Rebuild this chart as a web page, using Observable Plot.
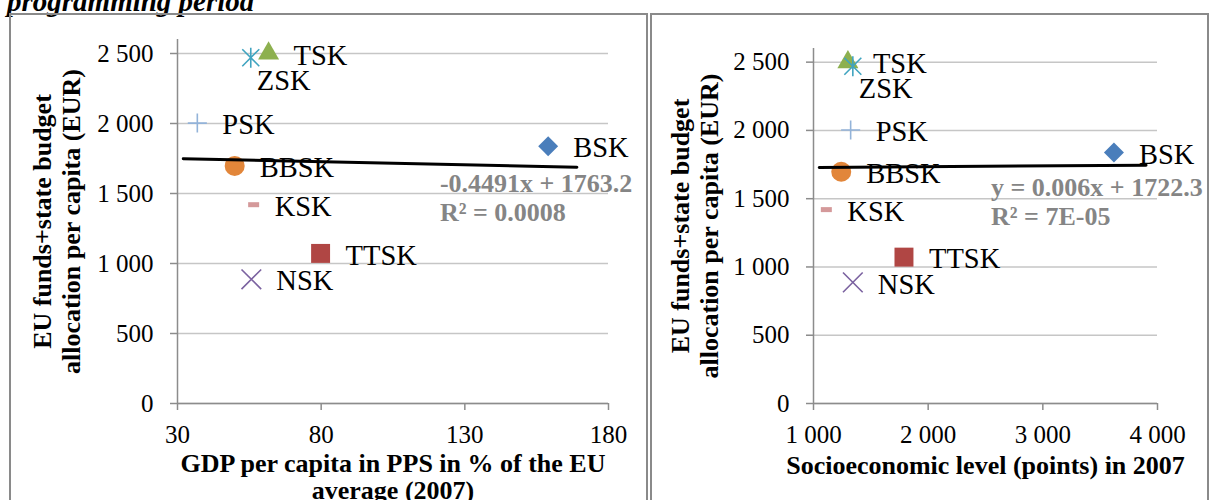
<!DOCTYPE html>
<html><head><meta charset="utf-8">
<script src="https://cdn.jsdelivr.net/npm/d3@7"></script>
<script src="https://cdn.jsdelivr.net/npm/@observablehq/plot@0.6"></script>
<style>
body{margin:0;background:#fff;width:1209px;height:500px;overflow:hidden;position:relative;font-family:"Liberation Serif",serif;}
#title{position:absolute;left:7px;top:-13px;font:italic bold 29px/29px "Liberation Serif",serif;white-space:nowrap;}
.panel{position:absolute;border:2px solid #8a8a8a;box-sizing:border-box;z-index:2;}
#p1{left:9px;top:13px;width:639px;height:520px;}
#p2{left:650px;top:13px;width:559px;height:520px;}
.chart{position:absolute;top:0;}
#c1{left:0;width:648px;}
#c2{left:650px;width:559px;}
.chart svg{max-width:none;background:transparent;}
</style></head><body>
<div id="title">programming period</div>
<div class="chart" id="c1"></div><div class="chart" id="c2"></div>
<div class="panel" id="p1"></div><div class="panel" id="p2"></div>
<script>
// ---- data ----
const regions    = ["BSK", "TTSK", "TSK", "NSK", "ZSK", "BBSK", "PSK", "KSK"];
const gdpPPS     = [159, 79.8, 61.7, 55.7, 55.5, 49.9, 36.9, 56.5];      // GDP per capita in PPS, % of EU (2007)
const socioLevel = [3620, 1789, 1300, 1343, 1343, 1242, 1324, 1112];     // socioeconomic level (points) 2007
const allocation = [1838, 1072, 2500, 887, 2470, 1697, 2003, 1420];      // EU funds + state budget per capita (EUR)
const yTicks     = [0, 500, 1000, 1500, 2000, 2500];
const gdpTicks   = [30, 80, 130, 180];
const socioTicks = [1000, 2000, 3000, 4000];
const gdpTrend        = [-0.4491, 1763.2];
const gdpTrendRange   = [32, 169];
const gdpTrendText    = ["-0.4491x + 1763.2", "R² = 0.0008"];
const socioTrend      = [0.006, 1722.3];
const socioTrendRange = [1050, 3900];
const socioTrendText  = ["y = 0.006x + 1722.3", "R² = 7E-05"];
const yTitle     = ["EU funds+state budget", "allocation per capita (EUR)"];
const gdpTitle   = ["GDP per capita in PPS in % of the EU", "average (2007)"];
const socioTitle = ["Socioeconomic level (points) in 2007"];

// ---- styles ----
const FONT = "Liberation Serif";
const fmt = d => d3.format(",")(d).replace(/,/g, "\u00a0");
const asteriskSym = {draw(c){const h=8.5,v=10;c.moveTo(-h,-h);c.lineTo(h,h);c.moveTo(-h,h);c.lineTo(h,-h);c.moveTo(0,-v);c.lineTo(0,v);}};
const dashSym = {draw(c){c.rect(-5.5,-2.5,11,5);}};
const sym = {
  BSK:  {symbol:"diamond2", r:9,   fill:"#4A7EBB"},
  TTSK: {symbol:"square",   r:10.7,fill:"#B04644"},
  TSK:  {symbol:"triangle", r:7.8, fill:"#8DB04F"},
  NSK:  {symbol:"times",    r:9,   stroke:"#7B62A0"},
  ZSK:  {symbol:asteriskSym,r:9,   stroke:"#40A4C0"},
  BBSK: {symbol:"circle",   r:10,  fill:"#E2863A"},
  PSK:  {symbol:"plus",     r:6.2, stroke:"#93B3D9"},
  KSK:  {symbol:dashSym,    r:5,   fill:"#D4999A"}
};
const labelOffset = {ZSK:[6,23], KSK:[21,2]};

function panel(o){
  const pts = regions.map((r,i)=>({region:r, x:o.xValues[i], y:allocation[i]}));
  const trend = o.trendRange.map(x=>({x, y:o.trend[0]*x + o.trend[1]}));
  const axisColor = "#8c8c8c";
  return Plot.plot({
    width:o.width, height:500,
    marginLeft:o.marginLeft, marginRight:o.marginRight, marginTop:o.marginTop, marginBottom:97,
    style:{fontFamily:FONT, fontSize:"25px", color:"black", background:"transparent"},
    x:{domain:o.xDomain},
    y:{domain:[0,2600]},
    marks:[
      Plot.gridY(yTicks, {stroke:"#c6c6c6", strokeOpacity:1, strokeWidth:1.5}),
      Plot.ruleX([o.xDomain[0]], {stroke:axisColor, strokeWidth:1.5}),
      Plot.ruleY([0], {stroke:axisColor, strokeWidth:1.5}),
      Plot.axisY(yTicks, {tickSize:7, tickPadding:17, tickFormat:fmt, fontSize:25, stroke:axisColor, strokeWidth:1.5, label:null, fontFamily:FONT}),
      Plot.axisX(o.xTicks, {tickSize:7, tickPadding:15, tickFormat:fmt, fontSize:25, stroke:axisColor, strokeWidth:1.5, label:null, fontFamily:FONT}),
      ...regions.map(r=>{
        const s = sym[r];
        return Plot.dot(pts.filter(d=>d.region===r), {x:"x", y:"y", symbol:s.symbol, r:s.r,
          fill:s.fill || "none", stroke:s.stroke || "none", strokeWidth:1.6});
      }),
      ...regions.map(r=>{
        const off = labelOffset[r] || [25,2];
        return Plot.text(pts.filter(d=>d.region===r), {x:"x", y:"y", text:"region", textAnchor:"start",
          dx:off[0], dy:off[1], fontSize:28.5, fontFamily:FONT, fill:"black"});
      }),
      Plot.line(trend, {x:"x", y:"y", stroke:"black", strokeWidth:3}),
      Plot.text([trend[1]], {x:"x", y:"y", text:()=>o.trendText.join("\n"), textAnchor:"start", lineAnchor:"middle",
        dx:o.trendDx, dy:o.trendDy, fontSize:26, fontWeight:"bold", fill:"#858585", lineHeight:1.12, fontFamily:FONT}),
      Plot.text([o.xTitle.join("\n")], {frameAnchor:"bottom", text:d=>d, dy:o.xTitleDy, textAnchor:"middle", lineAnchor:"middle",
        fontSize:26, fontWeight:"bold", lineHeight:1.04, fontFamily:FONT}),
      Plot.text([yTitle.join("\n")], {frameAnchor:"left", text:d=>d, dx:o.yTitleDx, rotate:-90, textAnchor:"middle", lineAnchor:"middle",
        fontSize:26, fontWeight:"bold", lineHeight:1.1, fontFamily:FONT})
    ]
  });
}

document.getElementById("c1").append(panel({
  xValues:gdpPPS, xDomain:[30,180], xTicks:gdpTicks, width:648, marginLeft:177, marginRight:40, marginTop:39,
  trend:gdpTrend, trendRange:gdpTrendRange, trendText:gdpTrendText, trendDx:-137, trendDy:30,
  xTitle:gdpTitle, xTitleDy:73, yTitleDx:-121
}));
document.getElementById("c2").append(panel({
  xValues:socioLevel, xDomain:[1000,4000], xTicks:socioTicks, width:559, marginLeft:163, marginRight:52, marginTop:48,
  trend:socioTrend, trendRange:socioTrendRange, trendText:socioTrendText, trendDx:-155, trendDy:36,
  xTitle:socioTitle, xTitleDy:62, yTitleDx:-119
}));
</script>
</body></html>
